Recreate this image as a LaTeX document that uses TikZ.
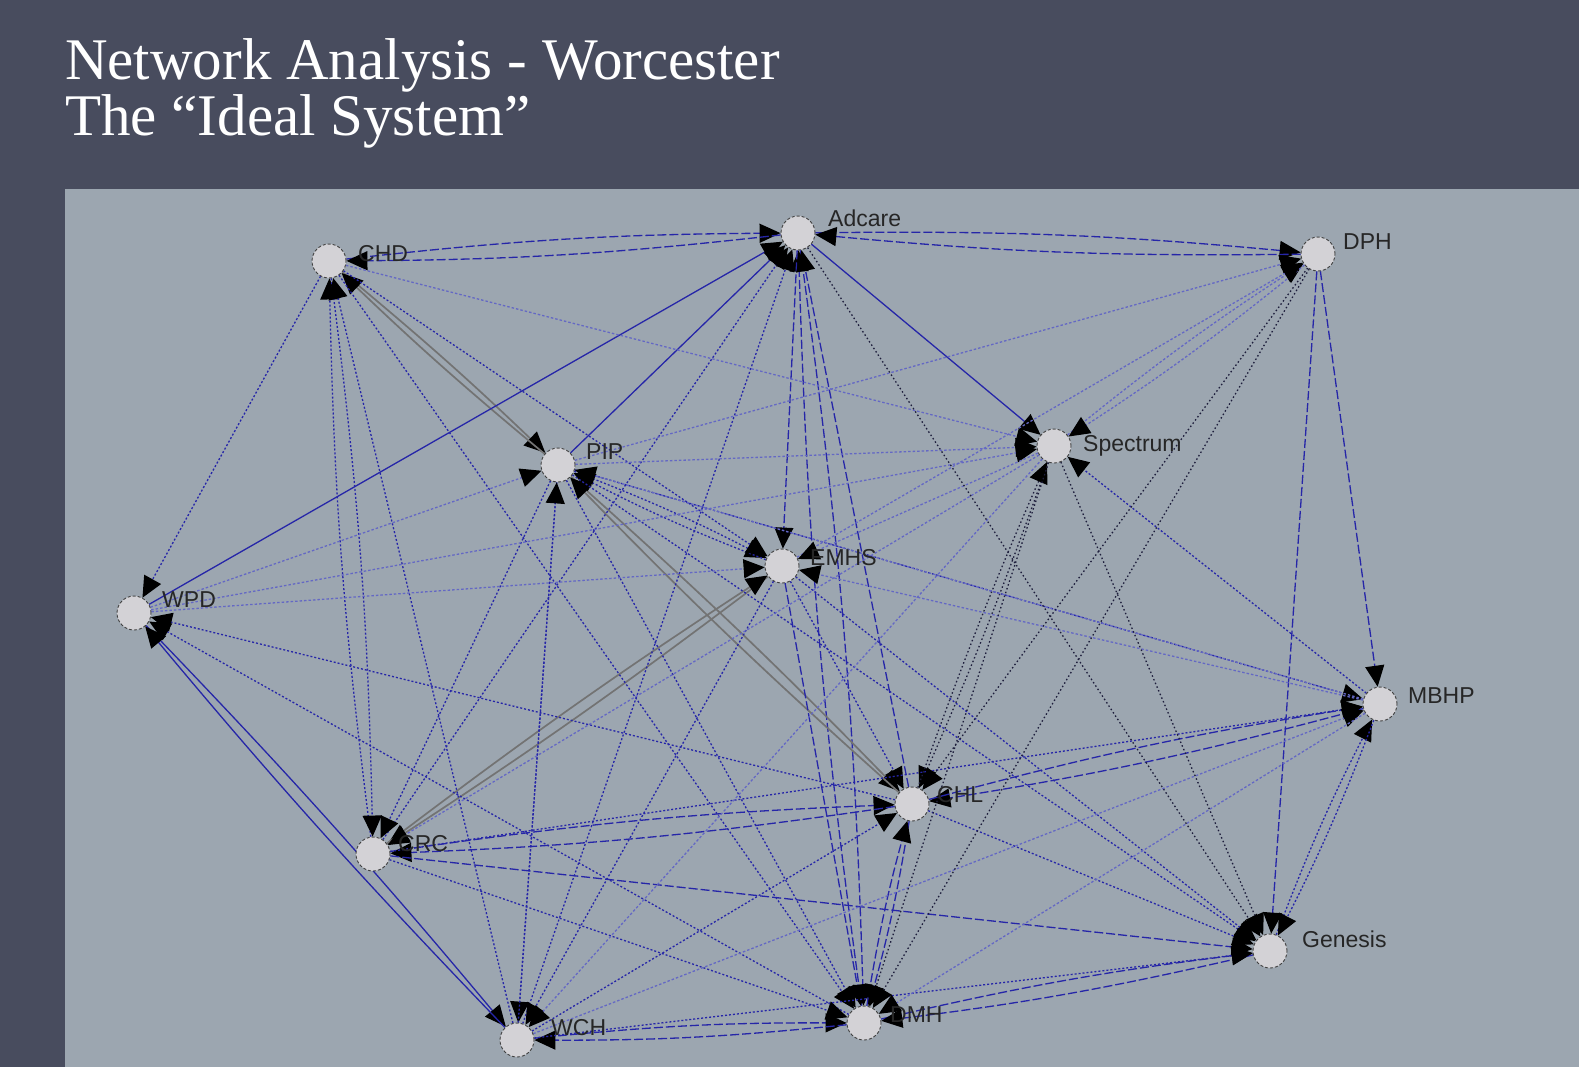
\documentclass[tikz,border=0pt]{standalone}
\usepackage{fontspec}
\setmainfont{Liberation Serif}
\setsansfont{Liberation Sans}
\usetikzlibrary{arrows.meta,backgrounds}

\definecolor{slate}{HTML}{484C5E}
\definecolor{panelgray}{HTML}{9CA6B0}
\definecolor{vtxgray}{HTML}{D3D2D6}
\definecolor{linkblue}{HTML}{2626A8}
\definecolor{linklight}{HTML}{6468C4}
\definecolor{linkdark}{HTML}{1E1E3C}

\pgfdeclarelayer{links}
\pgfsetlayers{background,links,main}

\begin{document}
\begin{tikzpicture}
    [x=1pt, y=-1pt,
     vtx/.style = {circle, fill=vtxgray, draw=black!75, densely dashed, line width=0.9pt, minimum size=34pt, inner sep=0pt},
     lbl/.style = {anchor=base west, inner sep=0pt, text=black!85, font=\sffamily\fontsize{23}{23}\selectfont},
     link/.style = {line width=1.3pt, -{Triangle[length=21pt,width=19pt,color=black]}},
     solidln/.style = {link, draw=linkblue},
     dashln/.style = {link, draw=linkblue, dash pattern=on 9pt off 3pt},
     dotln/.style = {link, draw=linkblue, dash pattern=on 2pt off 2pt},
     lightln/.style = {link, draw=linklight, dash pattern=on 2.5pt off 2pt},
     darkln/.style = {link, draw=linkdark, dash pattern=on 1.5pt off 2.5pt},
     grayln/.style = {link, draw=black!55, line width=1.7pt}]
    \useasboundingbox (0,0) rectangle (1579,1067);
    \begin{pgfonlayer}{background}
      \fill[slate] (0,0) rectangle (1579,1067);
      \fill[panelgray] (65,189) rectangle (1579,1067);
    \end{pgfonlayer}

    \node[anchor=base west, inner sep=0pt, text=white, font=\fontsize{59}{59}\selectfont] (title) at (65,80) {Network Analysis - Worcester};
    \node[anchor=base west, inner sep=0pt, text=white, font=\fontsize{59}{59}\selectfont] (subtitle) at (65,136) {The “Ideal System”};

    \node[vtx] (adcare) at (798,233) {};
    \node[vtx] (chd) at (329,261) {};
    \node[vtx] (dph) at (1318,254) {};
    \node[vtx] (pip) at (558,465) {};
    \node[vtx] (spectrum) at (1054,446) {};
    \node[vtx] (emhs) at (782,566) {};
    \node[vtx] (wpd) at (134,613) {};
    \node[vtx] (mbhp) at (1380,704) {};
    \node[vtx] (chl) at (912,804) {};
    \node[vtx] (crc) at (373,854) {};
    \node[vtx] (genesis) at (1270,951) {};
    \node[vtx] (wch) at (517,1040) {};
    \node[vtx] (dmh) at (864,1023) {};

    \node[lbl] (tadcare) at (828,227) {Adcare};
    \node[lbl] (tchd) at (358,262) {CHD};
    \node[lbl] (tdph) at (1343,250) {DPH};
    \node[lbl] (tpip) at (586,459) {PIP};
    \node[lbl] (tspectrum) at (1083,451) {Spectrum};
    \node[lbl] (temhs) at (810,565) {EMHS};
    \node[lbl] (twpd) at (162,607) {WPD};
    \node[lbl] (tmbhp) at (1408,703) {MBHP};
    \node[lbl] (tchl) at (937,802) {CHL};
    \node[lbl] (tcrc) at (398,851) {CRC};
    \node[lbl] (tgenesis) at (1302,947) {Genesis};
    \node[lbl] (twch) at (551,1035) {WCH};
    \node[lbl] (tdmh) at (890,1022) {DMH};

    \begin{pgfonlayer}{links}
    % ties drawn both ways
    \foreach \from/\to in {chd/adcare,adcare/dph,crc/chl,wch/dmh,dmh/genesis,chl/dmh,adcare/dmh,mbhp/chl}
      {\draw[dashln] (\from) to[bend left=3] (\to); \draw[dashln] (\to) to[bend left=3] (\from);}
    \foreach \from/\to in {chd/pip,pip/chl,emhs/crc}
      {\draw[grayln] (\from) to[bend left=2] (\to); \draw[grayln] (\to) to[bend left=2] (\from);}
    \foreach \from/\to in {genesis/mbhp,crc/chd,pip/emhs}
      {\draw[dotln] (\from) to[bend left=3] (\to); \draw[dotln] (\to) to[bend left=3] (\from);}
    \draw[solidln] (wpd) to[bend left=2] (wch);
    \draw[solidln] (wch) to[bend left=2] (wpd);
    \draw[darkln] (spectrum) to[bend left=2] (chl);
    \draw[darkln] (chl) to[bend left=2] (spectrum);
    \draw[lightln] (spectrum) to[bend left=3] (dph);
    \draw[lightln] (dph) to[bend left=3] (spectrum);

    % one-way ties
    \foreach \from/\to in {wpd/adcare,pip/adcare,adcare/spectrum}
      \draw[solidln] (\from) -- (\to);
    \foreach \from/\to in {adcare/emhs,chl/adcare,dph/mbhp,dph/genesis,crc/genesis,emhs/dmh}
      \draw[dashln] (\from) -- (\to);
    \foreach \from/\to in {chd/wpd,wch/chd,chd/dmh,chd/emhs,crc/adcare,wch/adcare,pip/mbhp,pip/genesis,
                           pip/dmh,pip/wch,pip/crc,wch/pip,chl/wpd,dmh/wpd,emhs/chl,emhs/wch,emhs/genesis,
                           crc/mbhp,crc/dmh,chl/genesis,mbhp/spectrum,wch/chl,wch/genesis}
      \draw[dotln] (\from) -- (\to);
    \foreach \from/\to in {chd/spectrum,wpd/pip,wpd/spectrum,wpd/emhs,pip/dph,emhs/dph,mbhp/emhs,pip/spectrum,
                           spectrum/emhs,spectrum/crc,wch/mbhp,mbhp/dmh,spectrum/wch,mbhp/pip}
      \draw[lightln] (\from) -- (\to);
    \foreach \from/\to in {adcare/genesis,spectrum/dmh,spectrum/genesis,dph/chl,dph/dmh}
      \draw[darkln] (\from) -- (\to);
    \end{pgfonlayer}
\end{tikzpicture}
\end{document}
